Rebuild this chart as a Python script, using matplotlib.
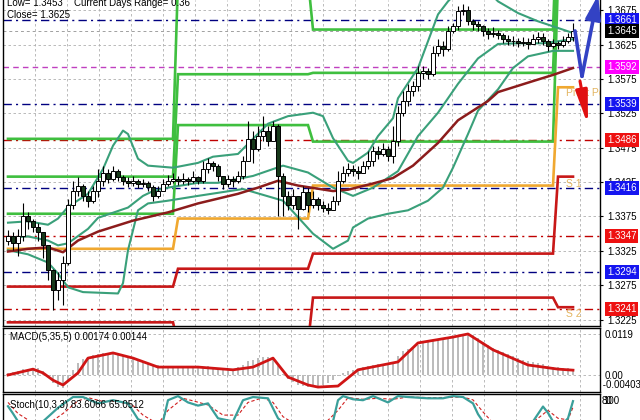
# MT4-style EURUSD chart: candles, bands, MA, pivots, MACD and Stochastic

import numpy as np
import matplotlib
matplotlib.use("Agg")
import matplotlib.pyplot as plt

plt.rcParams["font.family"] = ["Liberation Sans", "DejaVu Sans"]
plt.rcParams["font.size"] = 7

# ---- price bars ----
first_open = 1.3340
closes = [1.3347, 1.3337, 1.3346, 1.3376, 1.3369, 1.3360, 1.3352, 1.3333, 1.3297, 1.3268,
          1.3282, 1.3308, 1.3391, 1.3412, 1.3420, 1.3405, 1.3398, 1.3412, 1.3427, 1.3439,
          1.3430, 1.3441, 1.3433, 1.3427, 1.3424, 1.3427, 1.3423, 1.3424, 1.3418, 1.3405,
          1.3412, 1.3423, 1.3427, 1.3430, 1.3427, 1.3430, 1.3426, 1.3433, 1.3427, 1.3444,
          1.3453, 1.3449, 1.3434, 1.3423, 1.3430, 1.3427, 1.3434, 1.3456, 1.3488, 1.3473,
          1.3492, 1.3500, 1.3485, 1.3507, 1.3434, 1.3405, 1.3391, 1.3405, 1.3386, 1.3410,
          1.3391, 1.3401, 1.3391, 1.3388, 1.3384, 1.3398, 1.3427, 1.3439, 1.3444, 1.3441,
          1.3439, 1.3449, 1.3456, 1.3471, 1.3466, 1.3473, 1.3463, 1.3485, 1.3526, 1.3543,
          1.3557, 1.3565, 1.3584, 1.3587, 1.3582, 1.3613, 1.3623, 1.3618, 1.3645, 1.3652,
          1.3674, 1.3676, 1.3659, 1.3655, 1.3652, 1.3645, 1.3640, 1.3642, 1.3639, 1.3633,
          1.3630, 1.3630, 1.3627, 1.3629, 1.3626, 1.3633, 1.3636, 1.3630, 1.3623, 1.3627,
          1.3624, 1.3630, 1.3636, 1.3645]
highs = [1.3355, 1.3352, 1.3357, 1.3394, 1.3381, 1.3372, 1.3366, 1.3352, 1.3328, 1.3299,
         1.3294, 1.3318, 1.3401, 1.3427, 1.3433, 1.3423, 1.3412, 1.3420, 1.3444, 1.3449,
         1.3444, 1.3449, 1.3444, 1.3436, 1.3433, 1.3434, 1.3430, 1.3430, 1.3427, 1.3421,
         1.3420, 1.3430, 1.3436, 1.3439, 1.3434, 1.3439, 1.3433, 1.3441, 1.3434, 1.3456,
         1.3460, 1.3456, 1.3452, 1.3434, 1.3436, 1.3434, 1.3441, 1.3463, 1.3514, 1.3500,
         1.3507, 1.3521, 1.3507, 1.3514, 1.3510, 1.3439, 1.3412, 1.3415, 1.3405, 1.3420,
         1.3417, 1.3412, 1.3404, 1.3397, 1.3394, 1.3405, 1.3441, 1.3449, 1.3453, 1.3450,
         1.3449, 1.3456, 1.3471, 1.3478, 1.3478, 1.3482, 1.3478, 1.3507, 1.3536, 1.3557,
         1.3568, 1.3572, 1.3594, 1.3594, 1.3591, 1.3623, 1.3633, 1.3630, 1.3652, 1.3656,
         1.3681, 1.3684, 1.3681, 1.3662, 1.3659, 1.3653, 1.3649, 1.3650, 1.3647, 1.3642,
         1.3639, 1.3637, 1.3634, 1.3636, 1.3634, 1.3640, 1.3643, 1.3642, 1.3633, 1.3633,
         1.3631, 1.3637, 1.3642, 1.3656]
lows = [1.3333, 1.3326, 1.3318, 1.3340, 1.3357, 1.3352, 1.3340, 1.3314, 1.3282, 1.3239,
        1.3253, 1.3246, 1.3304, 1.3386, 1.3405, 1.3398, 1.3389, 1.3394, 1.3404, 1.3420,
        1.3424, 1.3427, 1.3427, 1.3421, 1.3418, 1.3420, 1.3417, 1.3418, 1.3412, 1.3398,
        1.3402, 1.3412, 1.3420, 1.3424, 1.3421, 1.3423, 1.3421, 1.3424, 1.3423, 1.3424,
        1.3439, 1.3441, 1.3427, 1.3415, 1.3418, 1.3418, 1.3424, 1.3430, 1.3456, 1.3453,
        1.3471, 1.3485, 1.3478, 1.3485, 1.3376, 1.3376, 1.3384, 1.3386, 1.3357, 1.3384,
        1.3381, 1.3388, 1.3384, 1.3381, 1.3379, 1.3384, 1.3391, 1.3424, 1.3434, 1.3434,
        1.3430, 1.3439, 1.3444, 1.3449, 1.3459, 1.3463, 1.3456, 1.3453, 1.3478, 1.3521,
        1.3536, 1.3550, 1.3557, 1.3575, 1.3575, 1.3579, 1.3608, 1.3608, 1.3616, 1.3642,
        1.3647, 1.3668, 1.3653, 1.3647, 1.3645, 1.3637, 1.3633, 1.3636, 1.3633, 1.3627,
        1.3624, 1.3623, 1.3621, 1.3623, 1.3618, 1.3626, 1.3627, 1.3624, 1.3616, 1.3620,
        1.3618, 1.3621, 1.3627, 1.3630]

# ---- overlays read at sample bars ----
ma_idx = [0, 4, 8, 11, 14, 18, 25, 32, 38, 42, 46, 50, 54, 58, 65, 68, 73, 77, 81, 86,
          90, 96, 98, 105, 109, 113]
ma_val = [1.3324, 1.3328, 1.3330, 1.3323, 1.3340, 1.3353, 1.3369, 1.3381, 1.3394, 1.3401,
          1.3408, 1.3417, 1.3427, 1.3420, 1.3412, 1.3414, 1.3423, 1.3431, 1.3449, 1.3482,
          1.3515, 1.3543, 1.3556, 1.3572, 1.3581, 1.3591]

up_idx = [0, 4, 8, 10, 12, 16, 19, 21, 23, 24, 26, 28, 33, 38, 41, 46, 49, 52, 56, 61,
          63, 65, 68, 69, 72, 74, 77, 78, 82, 86, 88, 91, 95, 98, 102, 106, 113]
up_val = [1.3366, 1.3368, 1.3363, 1.3372, 1.3389, 1.3408, 1.3444, 1.3478, 1.3500, 1.3495,
          1.3459, 1.3449, 1.3446, 1.3453, 1.3462, 1.3466, 1.3488, 1.3510, 1.3521, 1.3526,
          1.3521, 1.3489, 1.3456, 1.3453, 1.3468, 1.3492, 1.3518, 1.3547, 1.3591, 1.3669,
          1.3688, 1.3710, 1.3710, 1.3688, 1.3671, 1.3659, 1.3642]
mid_idx = [0, 4, 8, 10, 12, 16, 18, 24, 27, 29, 32, 38, 42, 49, 55, 60, 65, 69, 73, 78,
           82, 86, 90, 94, 98, 102, 107, 113]
mid_val = [1.3344, 1.3346, 1.3340, 1.3333, 1.3336, 1.3357, 1.3373, 1.3388, 1.3405, 1.3412,
           1.3417, 1.3424, 1.3424, 1.3434, 1.3449, 1.3439, 1.3417, 1.3405, 1.3417, 1.3441,
           1.3492, 1.3526, 1.3568, 1.3605, 1.3626, 1.3627, 1.3627, 1.3633]
low_idx = [0, 4, 8, 10, 12, 15, 22, 23, 24, 26, 28, 32, 38, 47, 55, 61, 65, 68, 69, 72,
           76, 80, 84, 87, 89, 92, 94, 98, 101, 104, 109, 113]
low_val = [1.3326, 1.3320, 1.3308, 1.3292, 1.3272, 1.3265, 1.3263, 1.3278, 1.3326, 1.3384,
           1.3394, 1.3398, 1.3405, 1.3415, 1.3398, 1.3350, 1.3328, 1.3340, 1.3359, 1.3372,
           1.3379, 1.3384, 1.3398, 1.3417, 1.3446, 1.3495, 1.3529, 1.3560, 1.3591, 1.3608,
           1.3616, 1.3616]

# daily pivot levels, one value per day segment
seg_start = [0, 34, 61, 110]
pivot = [1.3328, 1.3372, 1.3420, 1.3563]
r1 = [1.3379, 1.3508, 1.3484, 1.3720]
r2 = [1.3433, 1.3582, 1.3584, 1.3780]
r3 = [1.3488, 1.3720, 1.3647, 1.3840]
s1 = [1.3273, 1.3299, 1.3321, 1.3433]
s2 = [1.3221, 1.3190, 1.3257, 1.3243]

navy_levels = [1.3661, 1.3539, 1.3416, 1.3294]
red_levels = [1.3486, 1.3347, 1.3241]
magenta_level = 1.3592
bid = 1.3645
price_ticks = [1.3225, 1.3275, 1.3325, 1.3375, 1.3425, 1.3475, 1.3525, 1.3575, 1.3625, 1.3675]

# forecast arrows
blue_idx = [113.4, 114.8]
blue_val = [1.3645, 1.3579]
blue_tip = (118.0, 1.3697)
red_from = (114.4, 1.3572)
red_tip = (116.0, 1.3508)

# ---- MACD(5,35,5) ----
macd_hist = [0.0006, 0.0009, 0.0012, 0.0017, 0.0017, 0.0020, 0.0020, 0.0012, -0.0006, -0.0023,
             -0.0035, -0.0038, -0.0015, 0.0015, 0.0035, 0.0046, 0.0052, 0.0058, 0.0061, 0.0064,
             0.0064, 0.0064, 0.0061, 0.0058, 0.0055, 0.0052, 0.0046, 0.0041, 0.0035, 0.0029,
             0.0029, 0.0026, 0.0023, 0.0023, 0.0020, 0.0020, 0.0020, 0.0020, 0.0020, 0.0023,
             0.0026, 0.0023, 0.0020, 0.0017, 0.0017, 0.0017, 0.0023, 0.0029, 0.0041, 0.0044,
             0.0049, 0.0052, 0.0052, 0.0052, 0.0026, 0.0003, -0.0012, -0.0020, -0.0029, -0.0032,
             -0.0035, -0.0035, -0.0032, -0.0029, -0.0023, -0.0015, -0.0003, 0.0006, 0.0012, 0.0015,
             0.0017, 0.0023, 0.0026, 0.0029, 0.0032, 0.0032, 0.0032, 0.0038, 0.0055, 0.0070,
             0.0075, 0.0081, 0.0087, 0.0093, 0.0096, 0.0102, 0.0104, 0.0107, 0.0110, 0.0113,
             0.0117, 0.0119, 0.0119, 0.0116, 0.0107, 0.0096, 0.0087, 0.0078, 0.0073, 0.0067,
             0.0061, 0.0055, 0.0049, 0.0044, 0.0041, 0.0038, 0.0035, 0.0032, 0.0026, 0.0023,
             0.0023, 0.0020, 0.0020, 0.0017]
sig_idx = [0, 5, 7, 9, 11, 14, 16, 21, 25, 30, 38, 45, 49, 53, 56, 60, 62, 66, 70, 78,
           82, 89, 92, 97, 104, 110, 113]
sig_val = [0.0000, 0.0017, 0.0006, -0.0015, -0.0029, 0.0006, 0.0049, 0.0064, 0.0049, 0.0023,
           0.0023, 0.0015, 0.0023, 0.0049, -0.0006, -0.0029, -0.0035, -0.0032, 0.0015, 0.0038,
           0.0093, 0.0110, 0.0119, 0.0073, 0.0029, 0.0017, 0.0014]

# ---- Stochastic(10,3,3) ----
st_idx = [0, 1, 2, 5, 7, 10, 13, 15, 18, 21, 24, 26, 29, 31, 32, 34, 36, 38, 40, 42,
          45, 47, 49, 52, 54, 56, 62, 65, 66, 67, 69, 71, 73, 76, 78, 80, 84, 87, 89, 91,
          93, 94, 95, 98, 103, 105, 107, 108, 109, 111, 112, 113]
st_main = [68, 45, 20, 5, 20, 63, 97, 97, 77, 87, 77, 27, 8, 20, 87, 100, 80, 70, 77, 30,
           20, 87, 97, 93, 30, 3, 3, 20, 87, 100, 90, 87, 100, 80, 100, 97, 93, 93, 100, 97,
           77, 43, 20, 3, 3, 20, 67, 47, 20, 13, 30, 84]
sg_idx = [0, 2, 5, 8, 11, 14, 16, 19, 22, 25, 27, 30, 32, 35, 37, 40, 43, 46, 48, 51,
          53, 55, 58, 63, 66, 68, 71, 74, 77, 80, 85, 88, 91, 93, 95, 97, 104, 106, 108, 110,
          112, 113]
sg_val = [80, 45, 15, 12, 45, 85, 95, 83, 83, 70, 40, 12, 55, 93, 85, 72, 40, 40, 80, 95,
          80, 35, 5, 8, 55, 95, 90, 93, 90, 97, 95, 96, 97, 88, 50, 15, 8, 30, 55, 30,
          25, 65]

# ---- figure ----
W, H = 640.0, 420.0
fig = plt.figure(figsize=(6.4, 4.2), dpi=100)
fig.patch.set_facecolor("white")


def px_axes(x0, y0, x1, y1):
    return fig.add_axes([x0 / W, 1 - y1 / H, (x1 - x0) / W, (y1 - y0) / H])


ax = px_axes(3, 0, 600, 325.5)
axm = px_axes(3, 327.5, 600, 392)
axs = px_axes(3, 394.5, 600, 432)

n = len(closes)
bars = np.arange(n)
opens = [first_open] + closes[:-1]
grid_x = np.arange(5.3, 118.4, 6.42)
grid_kw = dict(color="#b0b0b0", lw=0.6, ls=(0, (3, 3)), zorder=0)
dashdot = (0, (6, 3, 1.5, 3))

for a in (ax, axm, axs):
    a.set_xlim(-1.0, 118.4)
    a.set_xticks([])
    for g in grid_x:
        a.axvline(g, **grid_kw)
    for sp in a.spines.values():
        sp.set_color("black")
        sp.set_linewidth(1.0)

# main panel
ax.set_ylim(1.3690 - 325.5 * 0.0001455, 1.3690)
ax.spines["top"].set_visible(False)
for t in price_ticks:
    ax.axhline(t, **grid_kw)
ax.axhline(bid, color="#a0a0a0", lw=0.7, ls=(0, (3, 3)), zorder=1)
for lv in navy_levels:
    ax.axhline(lv, color="#000080", lw=1.0, ls=dashdot, zorder=1)
for lv in red_levels:
    ax.axhline(lv, color="#c00000", lw=1.0, ls=dashdot, zorder=1)
ax.axhline(magenta_level, color="#c040c0", lw=1.0, ls=(0, (4, 3)), zorder=1)

seg_id = np.searchsorted(seg_start, bars, side="right") - 1
green, orange, red = "#3fbf3f", "#f0a830", "#c81818"
for vals, col in [(r1, green), (r2, green), (r3, green), (pivot, orange), (s1, red), (s2, red)]:
    ax.plot(bars, np.asarray(vals)[seg_id], color=col, lw=1.9, zorder=3,
            solid_joinstyle="miter")

teal = "#3aa07a"
ax.plot(up_idx, up_val, color=teal, lw=1.5, zorder=4)
ax.plot(mid_idx, mid_val, color=teal, lw=1.5, zorder=4)
ax.plot(low_idx, low_val, color=teal, lw=1.5, zorder=4)
ax.plot(ma_idx, ma_val, color="#8c1c1c", lw=1.8, zorder=4)

o = np.array(opens)
c = np.array(closes)
rise = c >= o
body_lo = np.minimum(o, c)
body_h = np.maximum(np.abs(c - o), 0.00005)
ax.vlines(bars, lows, highs, color="black", lw=0.8, zorder=6)
ax.bar(bars[rise], body_h[rise], bottom=body_lo[rise], width=0.62,
       color="white", edgecolor="black", lw=0.7, zorder=7)
ax.bar(bars[~rise], body_h[~rise], bottom=body_lo[~rise], width=0.62,
       color="#17391a", edgecolor="black", lw=0.7, zorder=7)

# forecast arrows
ax.plot(blue_idx, blue_val, color="#3342c4", lw=2.6, zorder=8, solid_capstyle="round")
ax.annotate("", xy=blue_tip, xytext=(blue_idx[-1], blue_val[-1]), annotation_clip=False,
            arrowprops=dict(arrowstyle="-|>,head_length=1.4,head_width=0.45", color="#3342c4",
                            lw=2.6, shrinkA=0, shrinkB=0, mutation_scale=10), zorder=8)
ax.annotate("", xy=red_tip, xytext=red_from, annotation_clip=False,
            arrowprops=dict(arrowstyle="-|>,head_length=2.0,head_width=0.35", color="#e01010",
                            lw=2.2, shrinkA=0, shrinkB=0, mutation_scale=10), zorder=8)

lab_col = "#e3b560"
ax.text(111.6, 1.3555, "Pivot Point", color=lab_col, fontsize=7.5, va="center", clip_on=True, zorder=5)
ax.text(111.6, 1.3423, "S 1", color=lab_col, fontsize=7.5, va="center", clip_on=True, zorder=5)
ax.text(111.6, 1.3233, "S 2", color=lab_col, fontsize=7.5, va="center", clip_on=True, zorder=5)

ax.yaxis.tick_right()
ax.set_yticks(price_ticks)
ax.set_yticklabels([f"{t:.4f}" for t in price_ticks])
ax.tick_params(axis="y", length=2.5, pad=2.5, labelsize=7, direction="out")


def price_box(level, fc):
    ax.annotate(f"{level:.4f}", xy=(1, level), xycoords=("axes fraction", "data"),
                xytext=(5, 0), textcoords="offset points", ha="left", va="center",
                color="white", fontsize=7, annotation_clip=False, zorder=10,
                bbox=dict(boxstyle="square,pad=0.2", fc=fc, ec="none"))


for lv in navy_levels:
    price_box(lv, "#1515f0")
for lv in red_levels:
    price_box(lv, "#ee1111")
price_box(magenta_level, "#ff00ff")
price_box(bid, "black")

fig.text(7 / W, 1 - 3 / H, "Low= 1.3453", va="center", fontsize=7)
fig.text(74 / W, 1 - 3 / H, "Current Days Range= 0.36", va="center", fontsize=7)
fig.text(7 / W, 1 - 15 / H, "Close= 1.3625", va="center", fontsize=7)

# MACD panel
axm.set_ylim(-0.00493, 0.013775)
axm.bar(bars, macd_hist, width=0.55, color="#bcbcbc", zorder=2)
axm.plot(sig_idx, sig_val, color="#d01515", lw=2.0, zorder=3)
axm.axhline(0.0119, **grid_kw)
axm.axhline(0.0, **grid_kw)
axm.yaxis.tick_right()
axm.set_yticks([0.0119, 0.0])
axm.set_yticklabels(["0.0119", "0.00"])
axm.tick_params(axis="y", length=0, pad=3, labelsize=7)
axm.text(1.0, 0.11, " -0.00403", transform=axm.transAxes, ha="left", va="center", fontsize=7)
axm.text(7 / 597, 0.86, "MACD(5,35,5) 0.00174 0.00144", transform=axm.transAxes,
         ha="left", va="center", fontsize=7)

# Stochastic panel
axs.set_ylim(-13.3, 105)
axs.spines["bottom"].set_visible(False)
axs.plot(st_idx, st_main, color="#3a9f9a", lw=1.6, zorder=3)
axs.plot(sg_idx, sg_val, color="#d02020", lw=0.8, ls=(0, (3, 2)), zorder=2)
axs.set_yticks([])
axs.text(1.005, 86, "100", transform=axs.get_yaxis_transform(), ha="left", va="center", fontsize=7)
axs.text(1.002, 86, "80", transform=axs.get_yaxis_transform(), ha="left", va="center", fontsize=7)
axs.text(7 / 597, 73, "Stoch(10,3,3) 83.6066 65.0512", transform=axs.get_yaxis_transform(),
         ha="left", va="center", fontsize=7)

fig.savefig("out.png", dpi=100)
